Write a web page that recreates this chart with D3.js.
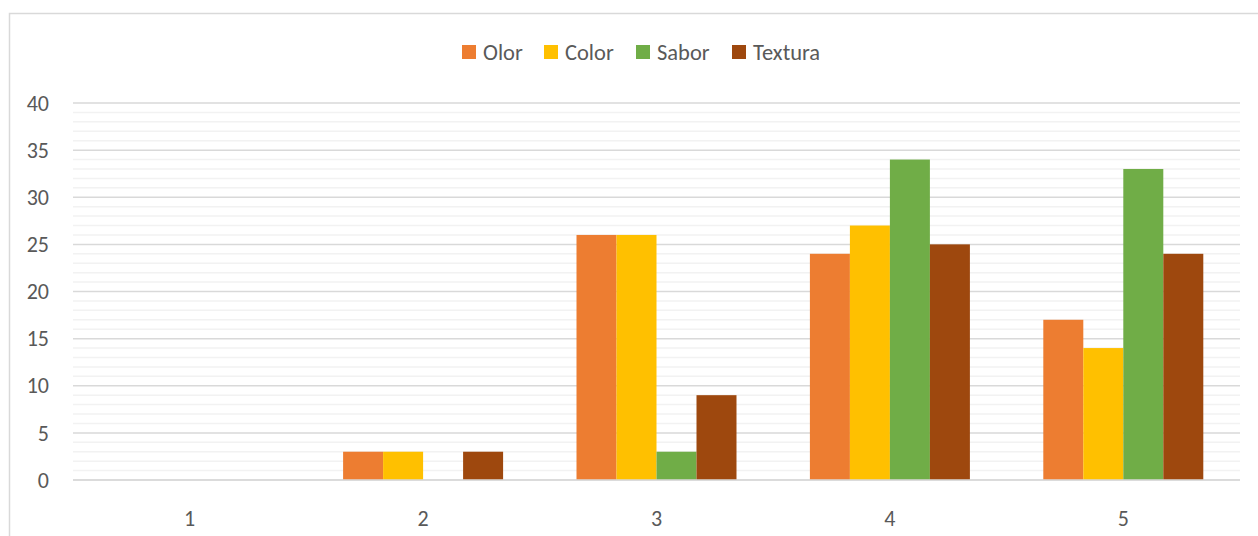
<!DOCTYPE html>
<html>
<head>
<meta charset="utf-8">
<script src="https://cdn.jsdelivr.net/npm/d3@7"></script>
<style>
  body { margin: 0; background: #fff; }
  text { font-family: Carlito, Calibri, "Open Sans", sans-serif; fill: #595959; }
</style>
</head>
<body>
<svg id="chart" width="1258" height="536"></svg>
<script>
const categories = ["1", "2", "3", "4", "5"];
const seriesNames = ["Olor", "Color", "Sabor", "Textura"];
const seriesColors = ["#ED7D31", "#FFC000", "#70AD47", "#9E480E"];
const olor = [0, 3, 26, 24, 17];
const color = [0, 3, 26, 27, 14];
const sabor = [0, 0, 3, 34, 33];
const textura = [0, 3, 9, 25, 24];
const yTicks = [0, 5, 10, 15, 20, 25, 30, 35, 40];

const values = [olor, color, sabor, textura];
const plot = { left: 73, right: 1240, top: 103, bottom: 480 };

const svg = d3.select("#chart");

// outer chart frame (right / bottom edges run off the picture)
svg.append("rect")
  .attr("x", 9.5).attr("y", 13.5)
  .attr("width", 1300).attr("height", 600)
  .attr("fill", "none")
  .attr("stroke", "#d9d9d9")
  .attr("stroke-width", 1.5);

const y = d3.scaleLinear().domain([0, 40]).range([plot.bottom, plot.top]);

const pad = 0.3145;
const x0 = d3.scaleBand()
  .domain(categories)
  .range([plot.left, plot.right])
  .paddingInner(pad)
  .paddingOuter(pad / 2);
const x1 = d3.scaleBand()
  .domain(seriesNames)
  .range([0, x0.bandwidth()]);

// minor gridlines every 1
const minor = d3.range(0, 41).filter(v => v % 5 !== 0);
svg.append("g")
  .selectAll("line")
  .data(minor)
  .join("line")
  .attr("x1", plot.left).attr("x2", plot.right)
  .attr("y1", d => y(d)).attr("y2", d => y(d))
  .attr("stroke", "#f2f2f2")
  .attr("stroke-width", 1.5);

// major gridlines
svg.append("g")
  .selectAll("line")
  .data(yTicks)
  .join("line")
  .attr("x1", plot.left).attr("x2", plot.right)
  .attr("y1", d => y(d)).attr("y2", d => y(d))
  .attr("stroke", "#d9d9d9")
  .attr("stroke-width", 1.5);

// y labels
svg.append("g")
  .selectAll("text")
  .data(yTicks)
  .join("text")
  .attr("x", 49)
  .attr("y", d => y(d))
  .attr("dy", "0.35em")
  .attr("text-anchor", "end")
  .attr("font-size", 22)
  .text(d => d);

// bars
const groups = svg.append("g")
  .selectAll("g")
  .data(categories)
  .join("g")
  .attr("transform", d => `translate(${x0(d)},0)`);

groups.selectAll("rect")
  .data((c, i) => seriesNames.map((s, k) => ({ s, k, v: values[k][i] })))
  .join("rect")
  .attr("x", d => x1(d.s))
  .attr("width", x1.bandwidth())
  .attr("y", d => y(d.v))
  .attr("height", d => y(0) - y(d.v))
  .attr("fill", d => seriesColors[d.k]);

// baseline redrawn over bars
svg.append("line")
  .attr("x1", plot.left).attr("x2", plot.right)
  .attr("y1", y(0)).attr("y2", y(0))
  .attr("stroke", "#d9d9d9")
  .attr("stroke-width", 1.5);

// x labels
svg.append("g")
  .selectAll("text")
  .data(categories)
  .join("text")
  .attr("x", d => x0(d) + x0.bandwidth() / 2)
  .attr("y", 526)
  .attr("text-anchor", "middle")
  .attr("font-size", 22)
  .text(d => d);

// legend
const legendX = [462, 544, 636, 732];
const legend = svg.append("g")
  .selectAll("g")
  .data(seriesNames)
  .join("g")
  .attr("transform", (d, i) => `translate(${legendX[i]},45)`);
legend.append("rect")
  .attr("width", 14).attr("height", 14)
  .attr("fill", (d, i) => seriesColors[i]);
legend.append("text")
  .attr("x", 21)
  .attr("y", 7)
  .attr("dy", "0.36em")
  .attr("font-size", 22.5)
  .text(d => d);
</script>
</body>
</html>
